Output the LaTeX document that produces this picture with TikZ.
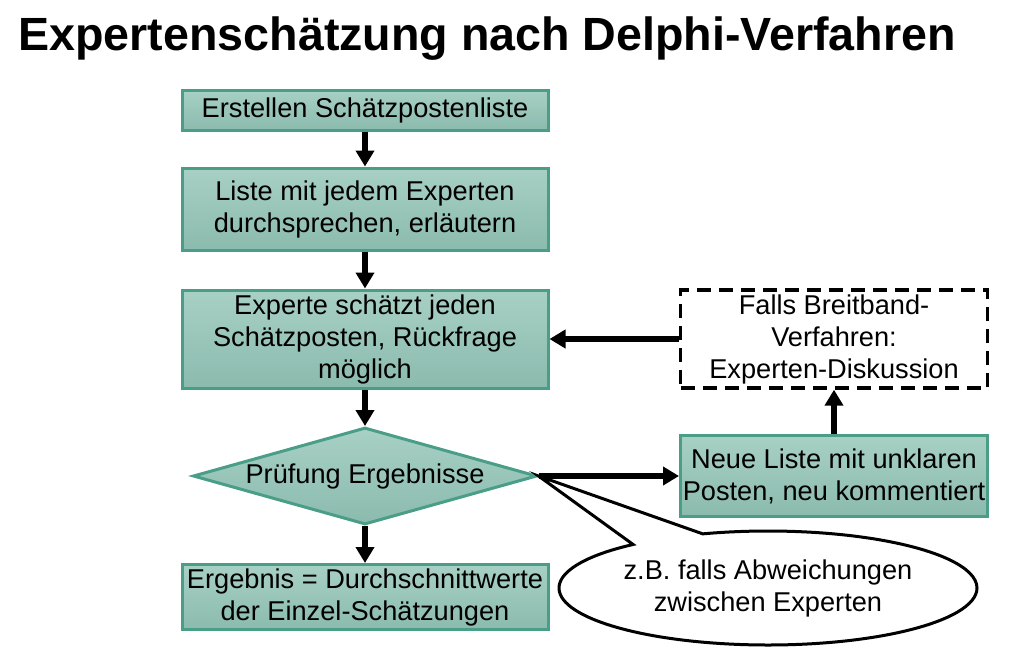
\documentclass[tikz,border=0pt]{standalone}
\usepackage{fontspec}
\setmainfont{Liberation Sans}
\usetikzlibrary{arrows.meta,positioning,shapes.geometric,shapes.callouts}

\definecolor{stepTop}{HTML}{A8D0C5}
\definecolor{stepBottom}{HTML}{8BBBAE}
\definecolor{stepBorder}{HTML}{4A9E88}

\tikzset{
  stepbox/.style={rectangle, draw=stepBorder, line width=1.5pt,
    top color=stepTop, bottom color=stepBottom, align=center,
    inner sep=0pt, font=\fontsize{13.6}{16}\selectfont},
  checkbox/.style={stepbox, diamond, shape aspect=3.55},
  notebox/.style={rectangle, draw=black, line width=1.7pt,
    dash pattern=on 7pt off 4pt, fill=white, align=center,
    inner sep=0pt, font=\fontsize{13.6}{16}\selectfont}
}

\begin{document}
\begin{tikzpicture}[x=0.5pt,y=-0.5pt]
      \useasboundingbox (0,0) rectangle (1022,648);
      \node[anchor=base west, inner sep=0pt,
        font=\bfseries\fontsize{23.3}{28}\selectfont] (title) at (18,50)
        {Expertenschätzung nach Delphi-Verfahren};
      \begin{scope}[every node/.style={stepbox, minimum width=183pt}]
        \node[minimum height=20pt] (erstellen) at (365,110)
          {Erstellen Schätzpostenliste};
        \node[minimum height=41pt] (liste) at (365,209)
          {Liste mit jedem Experten\\durchsprechen, erläutern};
        \node[minimum height=49pt] (schaetzt) at (365,339)
          {Experte schätzt jeden\\Schätzposten, Rückfrage\\möglich};
        \node[checkbox, minimum width=172pt, minimum height=48.5pt]
          (pruefung) at (365,476) {Prüfung Ergebnisse};
        \node[minimum height=32.5pt] (ergebnis) at (365,597)
          {Ergebnis = Durchschnittwerte\\der Einzel-Schätzungen};
        \node[minimum width=153.5pt, minimum height=40.5pt] (neue) at (834,476)
          {Neue Liste mit unklaren\\Posten, neu kommentiert};
      \end{scope}
      \node[notebox, minimum width=153.5pt, minimum height=49pt] (breitband)
        at (834,339) {Falls Breitband-\\Verfahren:\\Experten-Diskussion};
      % Hinweis zur Pruefung
      \node[ellipse callout, draw=black, line width=1.5pt, fill=white,
        minimum width=209pt, minimum height=57pt, inner sep=1pt, align=center,
        callout absolute pointer={(pruefung.east)}, callout pointer arc=22,
        font=\fontsize{13.6}{16}\selectfont] (hinweis) at (768,588)
        {z.B. falls Abweichungen\\zwischen Experten};
      \begin{scope}
        [every edge/.style={draw=black, line width=2.6pt,
          -{Triangle[width=9pt,length=8pt]}}]
        \path (erstellen) edge (liste);
        \path (liste) edge (schaetzt);
        \path (schaetzt) edge (pruefung);
        \path (pruefung) edge (ergebnis);
        \path (pruefung.east) edge (neue);
        \path (neue) edge (breitband);
        \path (breitband) edge (schaetzt);
      \end{scope}
    \end{tikzpicture}
\end{document}
